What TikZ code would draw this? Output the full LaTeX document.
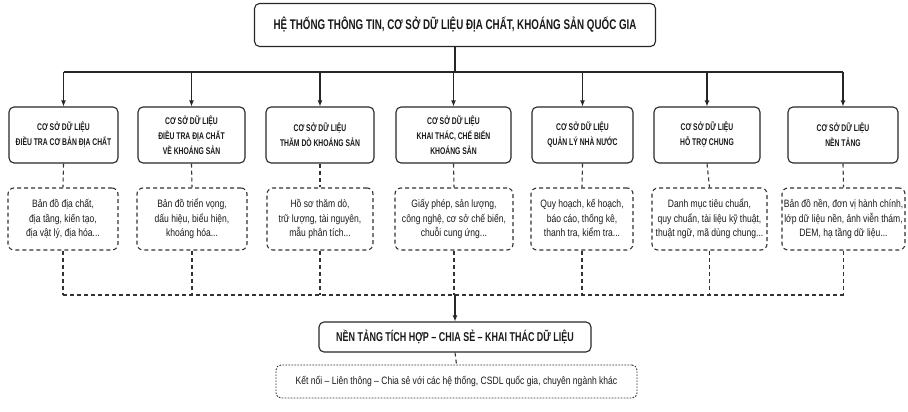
\documentclass[tikz,border=0pt]{standalone}
\usepackage{fontspec}
\setmainfont{Liberation Sans}[FakeStretch=0.8]
\newfontfamily\narrowfont{Liberation Sans}[FakeStretch=0.7]
\usetikzlibrary{arrows.meta}
\begin{document}
\begin{tikzpicture}[x=1pt,y=-1pt,
  solidbox/.style={draw=black!85, line width=1.1pt, rounded corners=5pt, align=center, inner sep=0pt, text=black!90},
  dashbox/.style={draw=black!80, line width=1.1pt, dash pattern=on 4pt off 3pt, rounded corners=6pt, align=center, inner sep=0pt, text=black!90,
     font=\fontsize{10.7}{14.5}\selectfont},
  dotbox/.style={draw=black!80, line width=0.9pt, dash pattern=on 1.6pt off 1.4pt, rounded corners=5pt, align=center, inner sep=0pt, text=black!90,
     font=\fontsize{10.7}{12}\selectfont},
  cattext/.style={font=\narrowfont\bfseries\fontsize{9.7}{15}\selectfont},
  conn/.style={draw=black!85, line width=1.1pt},
  arr/.style={conn, -{Latex[length=6pt,width=5pt]}},
  dconn/.style={draw=black!80, line width=1.1pt, dash pattern=on 4pt off 3pt},
]
\useasboundingbox (0,0) rectangle (908,412);

\node[solidbox, minimum width=401pt, minimum height=43pt, font=\narrowfont\bfseries\fontsize{14}{16}\selectfont] (top) at (455,25)
  {HỆ THỐNG THÔNG TIN, CƠ SỞ DỮ LIỆU ĐỊA CHẤT, KHOÁNG SẢN QUỐC GIA};

\node[solidbox, cattext, minimum width=109pt, minimum height=56pt] (b1) at (63.5,135) {CƠ SỞ DỮ LIỆU\\ĐIỀU TRA CƠ BẢN ĐỊA CHẤT};
\node[solidbox, cattext, minimum width=107pt, minimum height=56pt] (b2) at (191.5,135) {CƠ SỞ DỮ LIỆU\\ĐIỀU TRA ĐỊA CHẤT\\VỀ KHOÁNG SẢN};
\node[solidbox, cattext, minimum width=108pt, minimum height=56pt] (b3) at (320,135) {CƠ SỞ DỮ LIỆU\\THĂM DÒ KHOÁNG SẢN};
\node[solidbox, cattext, minimum width=115pt, minimum height=56pt] (b4) at (453.5,135) {CƠ SỞ DỮ LIỆU\\KHAI THÁC, CHẾ BIẾN\\KHOÁNG SẢN};
\node[solidbox, cattext, minimum width=101pt, minimum height=56pt] (b5) at (582.5,135) {CƠ SỞ DỮ LIỆU\\QUẢN LÝ NHÀ NƯỚC};
\node[solidbox, cattext, minimum width=106pt, minimum height=56pt] (b6) at (707,135) {CƠ SỞ DỮ LIỆU\\HỖ TRỢ CHUNG};
\node[solidbox, cattext, minimum width=110pt, minimum height=56pt] (b7) at (843,135) {CƠ SỞ DỮ LIỆU\\NỀN TẢNG};

\node[dashbox, minimum width=110pt, minimum height=62pt] (d1) at (63,219) {Bản đồ địa chất,\\địa tầng, kiến tạo,\\địa vật lý, địa hóa...};
\node[dashbox, minimum width=110pt, minimum height=62pt] (d2) at (192,219) {Bản đồ triển vọng,\\dấu hiệu, biểu hiện,\\khoáng hóa...};
\node[dashbox, minimum width=106pt, minimum height=62pt] (d3) at (320,219) {Hồ sơ thăm dò,\\trữ lượng, tài nguyên,\\mẫu phân tích...};
\node[dashbox, minimum width=118pt, minimum height=62pt] (d4) at (454,219) {Giấy phép, sản lượng,\\công nghệ, cơ sở chế biến,\\chuỗi cung ứng...};
\node[dashbox, minimum width=102pt, minimum height=62pt] (d5) at (582,219) {Quy hoạch, kế hoạch,\\báo cáo, thống kê,\\thanh tra, kiểm tra...};
\node[dashbox, minimum width=115pt, minimum height=62pt] (d6) at (709.5,219) {Danh mục tiêu chuẩn,\\quy chuẩn, tài liệu kỹ thuật,\\thuật ngữ, mã dùng chung...};
\node[dashbox, minimum width=123pt, minimum height=62pt] (d7) at (843.5,219) {Bản đồ nền, đơn vị hành chính,\\lớp dữ liệu nền, ảnh viễn thám,\\DEM, hạ tầng dữ liệu...};

\node[solidbox, minimum width=272pt, minimum height=30pt, font=\narrowfont\bfseries\fontsize{12.8}{14}\selectfont] (main) at (455,337)
  {NỀN TẢNG TÍCH HỢP – CHIA SẺ – KHAI THÁC DỮ LIỆU};
\node[dotbox, minimum width=361pt, minimum height=33pt] (ext) at (456.5,381.5)
  {Kết nối – Liên thông – Chia sẻ với các hệ thống, CSDL quốc gia, chuyên ngành khác};

\coordinate (bus) at (455,72);
\coordinate (lbus) at (455,295);

\draw[conn] (top.south) -- (top.south |- bus);
\draw[conn] (b1.north |- bus) -- (b7.north |- bus);
\foreach \i in {1,...,7} {
  \draw[arr] (b\i.north |- bus) -- (b\i.north);
  \draw[dconn] (b\i.south) -- (d\i.north);
  \draw[dconn] (d\i.south) -- (d\i.south |- lbus);
}
\draw[dconn] (d1.south |- lbus) -- (d7.south |- lbus);
\draw[arr] (main.north |- lbus) -- (main.north);
\draw[dconn] (main.south) -- (ext.north);
\end{tikzpicture}
\end{document}
